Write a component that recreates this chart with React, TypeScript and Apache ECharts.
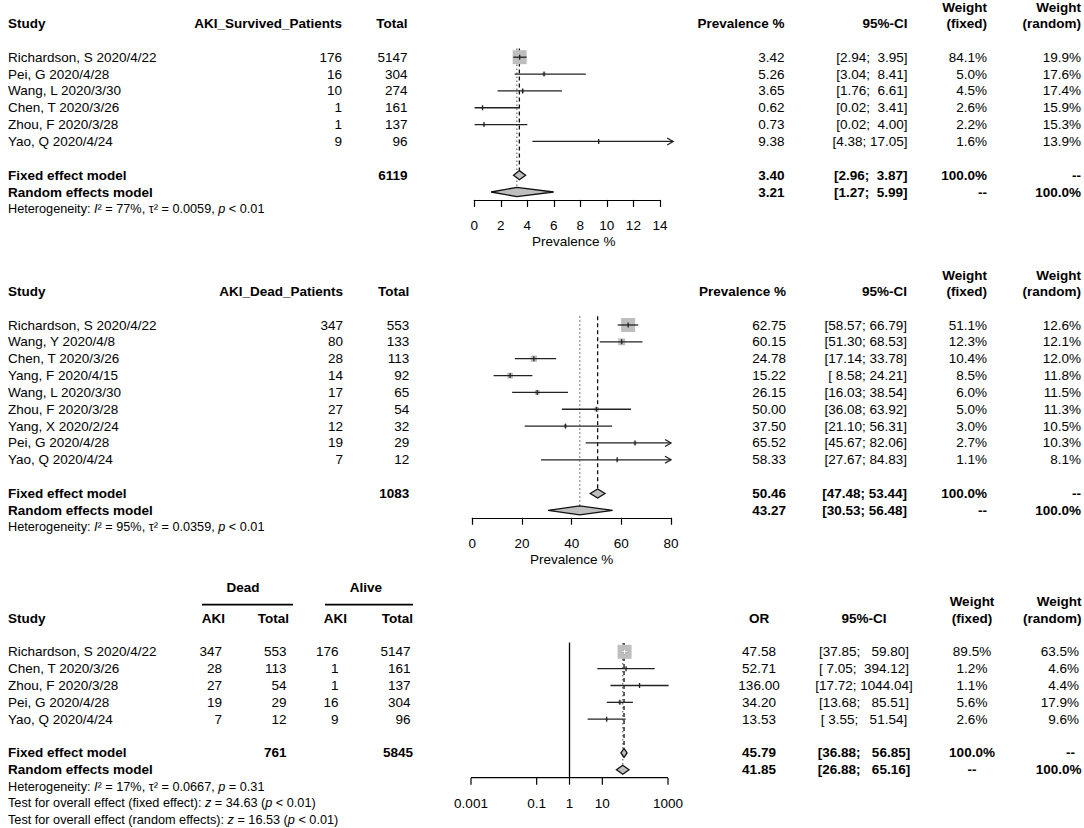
import React, { useEffect, useRef } from "react";
import * as echarts from "echarts";

// ---------------- Panel 1: AKI prevalence among survived patients ----------------
const p1Studies = ["Richardson, S 2020/4/22", "Pei, G 2020/4/28", "Wang, L 2020/3/30", "Chen, T 2020/3/26", "Zhou, F 2020/3/28", "Yao, Q 2020/4/24"];
const p1Events = [176, 16, 10, 1, 1, 9];
const p1Totals = [5147, 304, 274, 161, 137, 96];
const p1Est = [3.42, 5.26, 3.65, 0.62, 0.73, 9.38];
const p1Lower = [2.94, 3.04, 1.76, 0.02, 0.02, 4.38];
const p1Upper = [3.95, 8.41, 6.61, 3.41, 4.0, 17.05];
const p1WFixed = [84.1, 5.0, 4.5, 2.6, 2.2, 1.6];
const p1WRandom = [19.9, 17.6, 17.4, 15.9, 15.3, 13.9];
const p1Fixed = [3.4, 2.96, 3.87];
const p1Random = [3.21, 1.27, 5.99];
const p1TotalN = 6119;
const p1HetI2 = 77;
const p1HetTau2 = "0.0059";
const p1HetP = "< 0.01";
const p1Ticks = [0, 2, 4, 6, 8, 10, 12, 14];
const p1XLim = [0, 15];

// ---------------- Panel 2: AKI prevalence among dead patients ----------------
const p2Studies = ["Richardson, S 2020/4/22", "Wang, Y 2020/4/8", "Chen, T 2020/3/26", "Yang, F 2020/4/15", "Wang, L 2020/3/30", "Zhou, F 2020/3/28", "Yang, X 2020/2/24", "Pei, G 2020/4/28", "Yao, Q 2020/4/24"];
const p2Events = [347, 80, 28, 14, 17, 27, 12, 19, 7];
const p2Totals = [553, 133, 113, 92, 65, 54, 32, 29, 12];
const p2Est = [62.75, 60.15, 24.78, 15.22, 26.15, 50.0, 37.5, 65.52, 58.33];
const p2Lower = [58.57, 51.3, 17.14, 8.58, 16.03, 36.08, 21.1, 45.67, 27.67];
const p2Upper = [66.79, 68.53, 33.78, 24.21, 38.54, 63.92, 56.31, 82.06, 84.83];
const p2WFixed = [51.1, 12.3, 10.4, 8.5, 6.0, 5.0, 3.0, 2.7, 1.1];
const p2WRandom = [12.6, 12.1, 12.0, 11.8, 11.5, 11.3, 10.5, 10.3, 8.1];
const p2Fixed = [50.46, 47.48, 53.44];
const p2Random = [43.27, 30.53, 56.48];
const p2TotalN = 1083;
const p2HetI2 = 95;
const p2HetTau2 = "0.0359";
const p2HetP = "< 0.01";
const p2Ticks = [0, 20, 40, 60, 80];
const p2XLim = [0, 80];

// ---------------- Panel 3: odds ratio dead vs alive ----------------
const p3Studies = ["Richardson, S 2020/4/22", "Chen, T 2020/3/26", "Zhou, F 2020/3/28", "Pei, G 2020/4/28", "Yao, Q 2020/4/24"];
const p3DeadAKI = [347, 28, 27, 19, 7];
const p3DeadTotal = [553, 113, 54, 29, 12];
const p3AliveAKI = [176, 1, 1, 16, 9];
const p3AliveTotal = [5147, 161, 137, 304, 96];
const p3OR = [47.58, 52.71, 136.0, 34.2, 13.53];
const p3Lower = [37.85, 7.05, 17.72, 13.68, 3.55];
const p3Upper = [59.8, 394.12, 1044.04, 85.51, 51.54];
const p3WFixed = [89.5, 1.2, 1.1, 5.6, 2.6];
const p3WRandom = [63.5, 4.6, 4.4, 17.9, 9.6];
const p3Fixed = [45.79, 36.88, 56.85];
const p3Random = [41.85, 26.88, 65.16];
const p3DeadN = 761;
const p3AliveN = 5845;
const p3HetI2 = 17;
const p3HetTau2 = "0.0667";
const p3HetP = "= 0.31";
const p3ZFixed = "34.63";
const p3ZRandom = "16.53";
const p3TestP = "< 0.01";
const p3Ticks = [0.001, 0.1, 1, 10, 1000];
const p3TickLabels = ["0.001", "0.1", "1", "10", "1000"];
const p3Null = 1;

// ---------------- layout / style ----------------
const FONT = '"Liberation Sans", Arial, Helvetica, sans-serif';
const FS = 13.5;
const FS_SMALL = 12.7;
const STEP = 16.85;
const YMIN = -0.55;
const LINE_TOP = -0.52;
const BOX_MAX = 14;
const DH = 0.27;
const GREY = "#bebebe";
const INK = "#222";

const P1 = { y0: 57.2, axisRow: 8.47, left: 474.3, width: 185.6 };
const P2 = { y0: 325, axisRow: 11.44, left: 472.3, width: 198.7 };
const P3 = { y0: 651.8, axisRow: 7.47, left: 471, width: 197 };

type Cell = { t: string; x?: number; xv?: number; align: "left" | "right" | "center"; bold?: boolean; small?: boolean };
type Row = { y: number; cells: Cell[]; rules?: [number, number][] };

const f2 = (v: number) => v.toFixed(2);
const pct = (v: number) => v.toFixed(1) + "%";
function ciMaker(los: number[], his: number[]) {
  const wl = Math.max(...los.map((v) => f2(v).length));
  const wh = Math.max(...his.map((v) => f2(v).length));
  return (lo: number, hi: number) => `[${f2(lo).padStart(wl)}; ${f2(hi).padStart(wh)}]`;
}
const het = (i2: number, tau2: string, p: string) => `Heterogeneity: {i|I}² = ${i2}%, τ² = ${tau2}, {i|p} ${p}`;

function gridFor(P: { y0: number; axisRow: number; left: number; width: number }) {
  return { left: P.left, width: P.width, top: P.y0 + YMIN * STEP, height: (P.axisRow - YMIN) * STEP, containLabel: false };
}

function textSeries(g: number, rows: Row[], xRef: number) {
  return {
    type: "custom",
    xAxisIndex: g,
    yAxisIndex: g,
    silent: true,
    z: 5,
    data: rows.map((r) => [xRef, r.y]),
    encode: { x: 0, y: 1 },
    renderItem: (params: any, api: any) => {
      const r = rows[params.dataIndex];
      const py = api.coord([xRef, r.y])[1];
      const children: any[] = [];
      r.cells.forEach((c) => {
        const px = c.xv !== undefined ? api.coord([c.xv, r.y])[0] : c.x;
        const fs = c.small ? FS_SMALL : FS;
        children.push({
          type: "text",
          x: px,
          y: py,
          style: {
            text: c.t,
            fill: "#000",
            fontSize: fs,
            fontFamily: FONT,
            fontWeight: c.bold ? "bold" : "normal",
            align: c.align,
            verticalAlign: "middle",
            rich: { i: { fontStyle: "italic", fontSize: fs, fontFamily: FONT, fill: "#000" } },
          },
        });
      });
      (r.rules || []).forEach(([a, b]) => {
        children.push({ type: "line", shape: { x1: a, y1: py, x2: b, y2: py }, style: { stroke: "#000", lineWidth: 1.6 } });
      });
      return { type: "group", children };
    },
  };
}

function forestSeries(g: number, est: number[], lo: number[], hi: number[], wf: number[], lim: number[], whiteInside: boolean) {
  const wmax = Math.max(...wf);
  return {
    type: "custom",
    xAxisIndex: g,
    yAxisIndex: g,
    silent: true,
    z: 3,
    data: est.map((e, i) => [e, i]),
    encode: { x: 0, y: 1 },
    renderItem: (params: any, api: any) => {
      const i = params.dataIndex;
      const [xe, y] = api.coord([est[i], i]);
      const xl = api.coord([Math.max(lo[i], lim[0]), i])[0];
      const xh = api.coord([Math.min(hi[i], lim[1]), i])[0];
      const s = BOX_MAX * Math.sqrt(wf[i] / wmax);
      const ls = { stroke: INK, lineWidth: 1.3 };
      const ch: any[] = [
        { type: "rect", shape: { x: xe - s / 2, y: y - s / 2, width: s, height: s }, style: { fill: GREY } },
        { type: "line", shape: { x1: xl, y1: y, x2: xh, y2: y }, style: ls },
        { type: "line", shape: { x1: xe, y1: y - 2.5, x2: xe, y2: y + 2.5 }, style: ls },
      ];
      if (hi[i] > lim[1]) {
        ch.push({ type: "polyline", shape: { points: [[xh - 6, y - 3.5], [xh, y], [xh - 6, y + 3.5]] }, style: { stroke: INK, lineWidth: 1.3, fill: null } });
      }
      if (lo[i] < lim[0]) {
        ch.push({ type: "polyline", shape: { points: [[xl + 6, y - 3.5], [xl, y], [xl + 6, y + 3.5]] }, style: { stroke: INK, lineWidth: 1.3, fill: null } });
      }
      if (whiteInside && s > 4) {
        const a = Math.max(xl, xe - s / 2);
        const b = Math.min(xh, xe + s / 2);
        ch.push({ type: "line", shape: { x1: a, y1: y, x2: b, y2: y }, style: { stroke: "#fff", lineWidth: 1.3 } });
        ch.push({ type: "line", shape: { x1: xe, y1: y - 2.5, x2: xe, y2: y + 2.5 }, style: { stroke: "#fff", lineWidth: 1.3 } });
      }
      return { type: "group", children: ch };
    },
  };
}

function diamondSeries(g: number, fixed: number[], random: number[], fixedRow: number) {
  const items = [
    [fixed[0], fixedRow, fixed[1], fixed[2]],
    [random[0], fixedRow + 1, random[1], random[2]],
  ];
  return {
    type: "custom",
    xAxisIndex: g,
    yAxisIndex: g,
    silent: true,
    z: 4,
    data: items,
    encode: { x: 0, y: 1 },
    renderItem: (params: any, api: any) => {
      const [e, r, l, h] = items[params.dataIndex];
      const pts = [api.coord([l, r]), api.coord([e, r - DH]), api.coord([h, r]), api.coord([e, r + DH])];
      return { type: "polygon", shape: { points: pts }, style: { fill: GREY, stroke: "#111", lineWidth: 1.3 } };
    },
  };
}

function refLineSeries(g: number, fixed: number[], random: number[], fixedRow: number, nullVal: number | null, axisRow: number) {
  const items: number[][] = [
    [random[0], LINE_TOP, fixedRow + 1 - DH, 1],
    [fixed[0], LINE_TOP, fixedRow - DH, 0],
  ];
  if (nullVal !== null) items.push([nullVal, YMIN, axisRow, 2]);
  const styles = [
    { stroke: "#111", lineWidth: 1.3, lineDash: [4, 3] },
    { stroke: "#777", lineWidth: 1.3, lineDash: [1.5, 2.5] },
    { stroke: "#000", lineWidth: 1.3 },
  ];
  return {
    type: "custom",
    xAxisIndex: g,
    yAxisIndex: g,
    silent: true,
    z: 2,
    data: items,
    encode: { x: 0, y: 1 },
    renderItem: (params: any, api: any) => {
      const [v, a, b, k] = items[params.dataIndex];
      const p1 = api.coord([v, a]);
      const p2 = api.coord([v, b]);
      return { type: "line", shape: { x1: p1[0], y1: p1[1], x2: p2[0], y2: p2[1] }, style: styles[k] };
    },
  };
}

function logAxisSeries(g: number, axisRow: number) {
  return {
    type: "custom",
    xAxisIndex: g,
    yAxisIndex: g,
    silent: true,
    z: 4,
    data: p3Ticks.map((t) => [t, axisRow]),
    encode: { x: 0, y: 1 },
    renderItem: (params: any, api: any) => {
      const i = params.dataIndex;
      const [x, y] = api.coord([p3Ticks[i], axisRow]);
      const ch: any[] = [
        { type: "line", shape: { x1: x, y1: y, x2: x, y2: y + 7 }, style: { stroke: "#000", lineWidth: 1.2 } },
        { type: "text", x, y: y + 25.5, style: { text: p3TickLabels[i], fill: "#000", fontSize: FS, fontFamily: FONT, align: "center", verticalAlign: "middle" } },
      ];
      if (i === 0) {
        const xEnd = api.coord([p3Ticks[p3Ticks.length - 1], axisRow])[0];
        ch.push({ type: "line", shape: { x1: x, y1: y, x2: xEnd, y2: y }, style: { stroke: "#000", lineWidth: 1.2 } });
      }
      return { type: "group", children: ch };
    },
  };
}

function valueAxis(g: number, ticks: number[]) {
  return {
    gridIndex: g,
    type: "value",
    min: ticks[0],
    max: ticks[ticks.length - 1],
    interval: ticks[1] - ticks[0],
    axisLine: { show: true, onZero: false, lineStyle: { color: "#000", width: 1.2 } },
    axisTick: { show: true, length: 7, lineStyle: { color: "#000", width: 1.2 } },
    axisLabel: { color: "#000", fontSize: FS, fontFamily: FONT, margin: 19 },
    splitLine: { show: false },
  };
}

function buildOption() {
  // ---- panel 1 table ----
  const C1 = { study: 8, ev: 342, tot: 407.5, est: 784.5, ci: 907.5, wf: 987, wr: 1081 };
  const ci1 = ciMaker([...p1Lower, p1Fixed[1], p1Random[1]], [...p1Upper, p1Fixed[2], p1Random[2]]);
  const nameOff = 42 / STEP;
  const rows1: Row[] = [
    { y: -2.95, cells: [{ t: "Weight", x: C1.wf, align: "right", bold: true }, { t: "Weight", x: C1.wr, align: "right", bold: true }] },
    {
      y: -2,
      cells: [
        { t: "Study", x: C1.study, align: "left", bold: true },
        { t: "AKI_Survived_Patients", x: C1.ev, align: "right", bold: true },
        { t: "Total", x: C1.tot, align: "right", bold: true },
        { t: "Prevalence %", x: C1.est, align: "right", bold: true },
        { t: "95%-CI", x: C1.ci, align: "right", bold: true },
        { t: "(fixed)", x: C1.wf, align: "right", bold: true },
        { t: "(random)", x: C1.wr, align: "right", bold: true },
      ],
    },
    ...p1Studies.map((s, i) => ({
      y: i,
      cells: [
        { t: s, x: C1.study, align: "left" as const },
        { t: String(p1Events[i]), x: C1.ev, align: "right" as const },
        { t: String(p1Totals[i]), x: C1.tot, align: "right" as const },
        { t: f2(p1Est[i]), x: C1.est, align: "right" as const },
        { t: ci1(p1Lower[i], p1Upper[i]), x: C1.ci, align: "right" as const },
        { t: pct(p1WFixed[i]), x: C1.wf, align: "right" as const },
        { t: pct(p1WRandom[i]), x: C1.wr, align: "right" as const },
      ],
    })),
    {
      y: 7,
      cells: [
        { t: "Fixed effect model", x: C1.study, align: "left", bold: true },
        { t: String(p1TotalN), x: C1.tot, align: "right", bold: true },
        { t: f2(p1Fixed[0]), x: C1.est, align: "right", bold: true },
        { t: ci1(p1Fixed[1], p1Fixed[2]), x: C1.ci, align: "right", bold: true },
        { t: "100.0%", x: C1.wf, align: "right", bold: true },
        { t: "--", x: C1.wr, align: "right", bold: true },
      ],
    },
    {
      y: 8,
      cells: [
        { t: "Random effects model", x: C1.study, align: "left", bold: true },
        { t: f2(p1Random[0]), x: C1.est, align: "right", bold: true },
        { t: ci1(p1Random[1], p1Random[2]), x: C1.ci, align: "right", bold: true },
        { t: "--", x: C1.wf, align: "right", bold: true },
        { t: "100.0%", x: C1.wr, align: "right", bold: true },
      ],
    },
    { y: 9, cells: [{ t: het(p1HetI2, p1HetTau2, p1HetP), x: C1.study, align: "left", small: true }] },
    { y: P1.axisRow + nameOff, cells: [{ t: "Prevalence %", xv: (p1XLim[0] + p1XLim[1]) / 2, align: "center" }] },
  ];

  // ---- panel 2 table ----
  const C2 = { study: 8, ev: 343, tot: 409.3, est: 786, ci: 907, wf: 987, wr: 1081 };
  const ci2 = ciMaker([...p2Lower, p2Fixed[1], p2Random[1]], [...p2Upper, p2Fixed[2], p2Random[2]]);
  const fr2 = p2Studies.length + 1;
  const rows2: Row[] = [
    { y: -2.95, cells: [{ t: "Weight", x: C2.wf, align: "right", bold: true }, { t: "Weight", x: C2.wr, align: "right", bold: true }] },
    {
      y: -2,
      cells: [
        { t: "Study", x: C2.study, align: "left", bold: true },
        { t: "AKI_Dead_Patients", x: C2.ev, align: "right", bold: true },
        { t: "Total", x: C2.tot, align: "right", bold: true },
        { t: "Prevalence %", x: C2.est, align: "right", bold: true },
        { t: "95%-CI", x: C2.ci, align: "right", bold: true },
        { t: "(fixed)", x: C2.wf, align: "right", bold: true },
        { t: "(random)", x: C2.wr, align: "right", bold: true },
      ],
    },
    ...p2Studies.map((s, i) => ({
      y: i,
      cells: [
        { t: s, x: C2.study, align: "left" as const },
        { t: String(p2Events[i]), x: C2.ev, align: "right" as const },
        { t: String(p2Totals[i]), x: C2.tot, align: "right" as const },
        { t: f2(p2Est[i]), x: C2.est, align: "right" as const },
        { t: ci2(p2Lower[i], p2Upper[i]), x: C2.ci, align: "right" as const },
        { t: pct(p2WFixed[i]), x: C2.wf, align: "right" as const },
        { t: pct(p2WRandom[i]), x: C2.wr, align: "right" as const },
      ],
    })),
    {
      y: fr2,
      cells: [
        { t: "Fixed effect model", x: C2.study, align: "left", bold: true },
        { t: String(p2TotalN), x: C2.tot, align: "right", bold: true },
        { t: f2(p2Fixed[0]), x: C2.est, align: "right", bold: true },
        { t: ci2(p2Fixed[1], p2Fixed[2]), x: C2.ci, align: "right", bold: true },
        { t: "100.0%", x: C2.wf, align: "right", bold: true },
        { t: "--", x: C2.wr, align: "right", bold: true },
      ],
    },
    {
      y: fr2 + 1,
      cells: [
        { t: "Random effects model", x: C2.study, align: "left", bold: true },
        { t: f2(p2Random[0]), x: C2.est, align: "right", bold: true },
        { t: ci2(p2Random[1], p2Random[2]), x: C2.ci, align: "right", bold: true },
        { t: "--", x: C2.wf, align: "right", bold: true },
        { t: "100.0%", x: C2.wr, align: "right", bold: true },
      ],
    },
    { y: fr2 + 2, cells: [{ t: het(p2HetI2, p2HetTau2, p2HetP), x: C2.study, align: "left", small: true }] },
    { y: P2.axisRow + nameOff, cells: [{ t: "Prevalence %", xv: (p2XLim[0] + p2XLim[1]) / 2, align: "center" }] },
  ];

  // ---- panel 3 table ----
  const C3 = { study: 8, dA: 222, dAh: 225, dT: 286.5, dTh: 289, aA: 338.5, aAh: 347, aT: 410.5, aTh: 413, or: 759, ci: 864, wf: 972, wr: 1079, wrh: 1081.5 };
  const ci3 = ciMaker([...p3Lower, p3Fixed[1], p3Random[1]], [...p3Upper, p3Fixed[2], p3Random[2]]);
  const fr3 = p3Studies.length + 1;
  const rows3: Row[] = [
    { y: -3.8, cells: [{ t: "Dead", x: 243, align: "center", bold: true }, { t: "Alive", x: 366, align: "center", bold: true }] },
    { y: -2.8, cells: [], rules: [[202, 293], [325, 413]] },
    { y: -2.97, cells: [{ t: "Weight", x: C3.wf, align: "center", bold: true }, { t: "Weight", x: C3.wrh, align: "right", bold: true }] },
    {
      y: -2,
      cells: [
        { t: "Study", x: C3.study, align: "left", bold: true },
        { t: "AKI", x: C3.dAh, align: "right", bold: true },
        { t: "Total", x: C3.dTh, align: "right", bold: true },
        { t: "AKI", x: C3.aAh, align: "right", bold: true },
        { t: "Total", x: C3.aTh, align: "right", bold: true },
        { t: "OR", x: C3.or, align: "center", bold: true },
        { t: "95%-CI", x: C3.ci, align: "center", bold: true },
        { t: "(fixed)", x: C3.wf, align: "center", bold: true },
        { t: "(random)", x: C3.wrh, align: "right", bold: true },
      ],
    },
    ...p3Studies.map((s, i) => ({
      y: i,
      cells: [
        { t: s, x: C3.study, align: "left" as const },
        { t: String(p3DeadAKI[i]), x: C3.dA, align: "right" as const },
        { t: String(p3DeadTotal[i]), x: C3.dT, align: "right" as const },
        { t: String(p3AliveAKI[i]), x: C3.aA, align: "right" as const },
        { t: String(p3AliveTotal[i]), x: C3.aT, align: "right" as const },
        { t: f2(p3OR[i]), x: C3.or, align: "center" as const },
        { t: ci3(p3Lower[i], p3Upper[i]), x: C3.ci, align: "center" as const },
        { t: pct(p3WFixed[i]), x: C3.wf, align: "center" as const },
        { t: pct(p3WRandom[i]), x: C3.wr, align: "right" as const },
      ],
    })),
    {
      y: fr3,
      cells: [
        { t: "Fixed effect model", x: C3.study, align: "left", bold: true },
        { t: String(p3DeadN), x: C3.dT, align: "right", bold: true },
        { t: String(p3AliveN), x: C3.aTh, align: "right", bold: true },
        { t: f2(p3Fixed[0]), x: C3.or, align: "center", bold: true },
        { t: ci3(p3Fixed[1], p3Fixed[2]), x: C3.ci, align: "center", bold: true },
        { t: "100.0%", x: C3.wf, align: "center", bold: true },
        { t: "--", x: C3.wr - 4, align: "right", bold: true },
      ],
    },
    {
      y: fr3 + 1,
      cells: [
        { t: "Random effects model", x: C3.study, align: "left", bold: true },
        { t: f2(p3Random[0]), x: C3.or, align: "center", bold: true },
        { t: ci3(p3Random[1], p3Random[2]), x: C3.ci, align: "center", bold: true },
        { t: "--", x: C3.wf, align: "center", bold: true },
        { t: "100.0%", x: C3.wrh, align: "right", bold: true },
      ],
    },
    { y: fr3 + 2, cells: [{ t: het(p3HetI2, p3HetTau2, p3HetP), x: C3.study, align: "left", small: true }] },
    { y: fr3 + 3, cells: [{ t: `Test for overall effect (fixed effect): {i|z} = ${p3ZFixed} ({i|p} ${p3TestP})`, x: C3.study, align: "left", small: true }] },
    { y: fr3 + 4, cells: [{ t: `Test for overall effect (random effects): {i|z} = ${p3ZRandom} ({i|p} ${p3TestP})`, x: C3.study, align: "left", small: true }] },
  ];

  return {
    animation: false,
    backgroundColor: "#ffffff",
    textStyle: { fontFamily: FONT },
    grid: [gridFor(P1), gridFor(P2), gridFor(P3)],
    xAxis: [
      valueAxis(0, p1Ticks),
      valueAxis(1, p2Ticks),
      { gridIndex: 2, type: "log", logBase: 10, min: p3Ticks[0], max: p3Ticks[p3Ticks.length - 1], show: false },
    ],
    yAxis: [
      { gridIndex: 0, type: "value", inverse: true, min: YMIN, max: P1.axisRow, show: false },
      { gridIndex: 1, type: "value", inverse: true, min: YMIN, max: P2.axisRow, show: false },
      { gridIndex: 2, type: "value", inverse: true, min: YMIN, max: P3.axisRow, show: false },
    ],
    series: [
      refLineSeries(0, p1Fixed, p1Random, p1Studies.length + 1, null, P1.axisRow),
      forestSeries(0, p1Est, p1Lower, p1Upper, p1WFixed, p1XLim, false),
      diamondSeries(0, p1Fixed, p1Random, p1Studies.length + 1),
      textSeries(0, rows1, 0),

      refLineSeries(1, p2Fixed, p2Random, fr2, null, P2.axisRow),
      forestSeries(1, p2Est, p2Lower, p2Upper, p2WFixed, p2XLim, false),
      diamondSeries(1, p2Fixed, p2Random, fr2),
      textSeries(1, rows2, 0),

      refLineSeries(2, p3Fixed, p3Random, fr3, p3Null, P3.axisRow),
      forestSeries(2, p3OR, p3Lower, p3Upper, p3WFixed, [p3Ticks[0], Infinity], true),
      diamondSeries(2, p3Fixed, p3Random, fr3),
      logAxisSeries(2, P3.axisRow),
      textSeries(2, rows3, 1),
    ],
  };
}

export default function App() {
  const ref = useRef<HTMLDivElement>(null);
  useEffect(() => {
    if (!ref.current) return;
    const chart = echarts.init(ref.current, undefined, { renderer: "svg" });
    chart.setOption(buildOption() as any);
    return () => chart.dispose();
  }, []);
  return <div ref={ref} style={{ position: "fixed", left: 0, top: 0, width: 1084, height: 828, background: "#fff" }} />;
}
